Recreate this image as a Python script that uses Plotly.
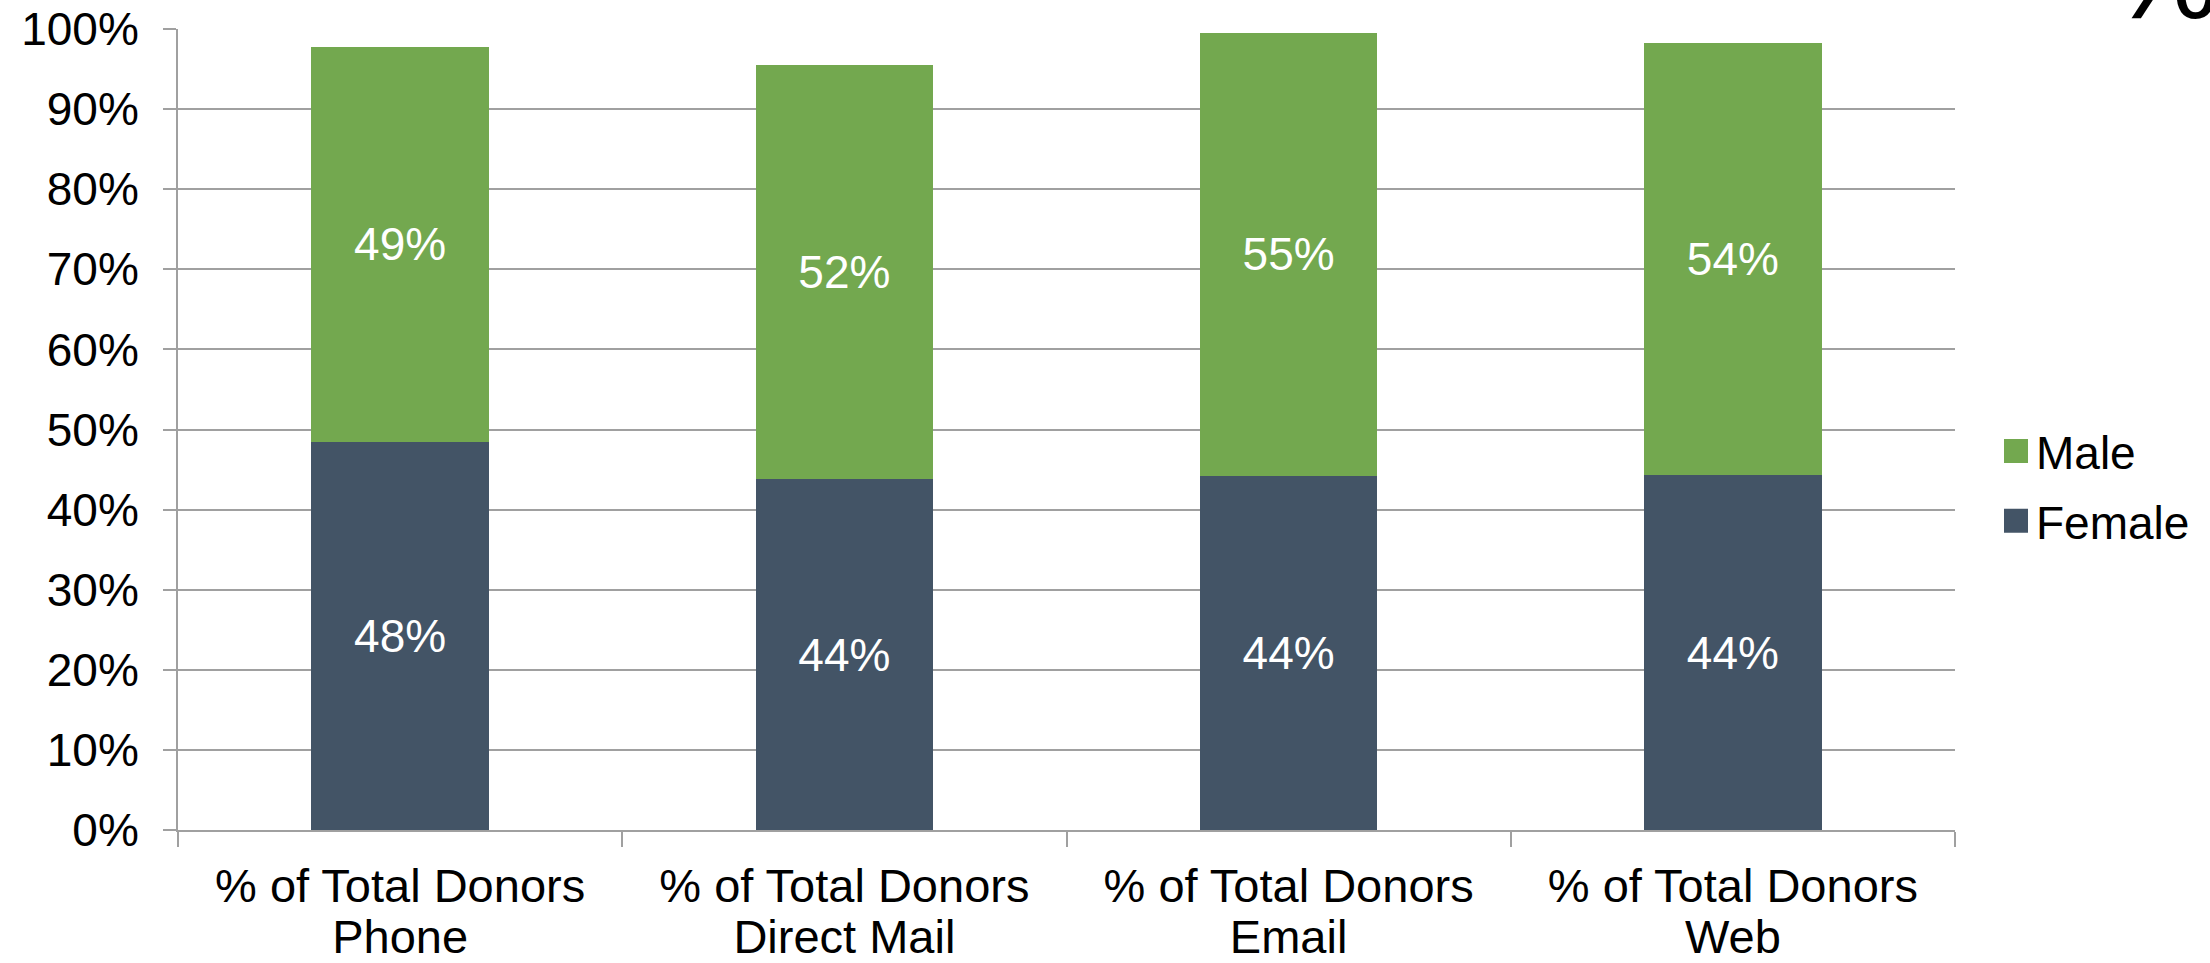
import plotly.graph_objects as go

channels = ["Phone", "Direct Mail", "Email", "Web"]
tick_labels = ["% of Total Donors<br>" + c for c in channels]
female = [0.484, 0.438, 0.442, 0.443]
male = [0.494, 0.517, 0.553, 0.539]
y_ticks = [0, 0.1, 0.2, 0.3, 0.4, 0.5, 0.6, 0.7, 0.8, 0.9, 1.0]

FONT = "Liberation Sans, Arial, sans-serif"
GRID = "#A0A0A0"
W, H = 2210, 963
L, R, T, B = 178, 255, 29, 133

fig = go.Figure()
fig.add_trace(go.Bar(
    name="Female", x=tick_labels, y=female, legendgroup="f", legendrank=2,
    marker=dict(color="#435466", line=dict(width=0)),
    texttemplate="%{y:.0%}", textposition="inside", insidetextanchor="middle",
    textangle=0, constraintext="none",
    textfont=dict(color="white", size=46, family=FONT),
))
fig.add_trace(go.Bar(
    name="Male", x=tick_labels, y=male, legendgroup="m", legendrank=1,
    marker=dict(color="#73A84F", line=dict(width=0)),
    texttemplate="%{y:.0%}", textposition="inside", insidetextanchor="middle",
    textangle=0, constraintext="none",
    textfont=dict(color="white", size=46, family=FONT),
))

fig.update_layout(
    template="none",
    width=W, height=H,
    margin=dict(l=L, r=R, t=T, b=B, pad=0),
    barmode="stack", bargap=0.6,
    paper_bgcolor="white", plot_bgcolor="white",
    font=dict(family=FONT, color="black", size=46),
    showlegend=True,
    legend=dict(
        traceorder="grouped", orientation="v", tracegroupgap=7,
        x=(1996 - L) / (W - L - R), xanchor="left",
        y=1 - (486 - T) / (H - T - B), yanchor="middle",
        font=dict(size=46, family=FONT, color="black"),
        bgcolor="rgba(0,0,0,0)", borderwidth=0,
    ),
    xaxis=dict(
        showline=True, linecolor=GRID, linewidth=2,
        ticks="outside", tickson="boundaries", ticklen=15, tickwidth=2, tickcolor=GRID,
        showgrid=False, automargin=False, ticklabelstandoff=14,
        tickfont=dict(size=47, family=FONT, color="black"),
    ),
    yaxis=dict(
        range=[0, 1], tickvals=y_ticks, tickformat=".0%",
        showline=True, linecolor=GRID, linewidth=2,
        ticks="outside", ticklen=13, tickwidth=2, tickcolor=GRID,
        showgrid=True, gridcolor=GRID, gridwidth=2, zeroline=False,
        automargin=False, ticklabelstandoff=15,
        tickfont=dict(size=46, family=FONT, color="black"),
    ),
    annotations=[dict(
        text="%", xref="paper", yref="paper",
        x=(2108 - L) / (W - L - R), y=1 + (T - 45) / (H - T - B),
        xanchor="left", yanchor="bottom", showarrow=False,
        font=dict(size=124, family=FONT, color="black"), borderpad=0,
    )],
)

post = """
document.querySelectorAll('.legend .legendpoints path').forEach(function(p){
  p.setAttribute('d','M12,12H-12V-12H12Z');
});
document.querySelectorAll('.xtick text tspan.line').forEach(function(t){
  if (t.getAttribute('dy') === '1.3em') { t.setAttribute('dy', '1.07em'); }
});
"""
fig.write_html("out.html", post_script=post)
